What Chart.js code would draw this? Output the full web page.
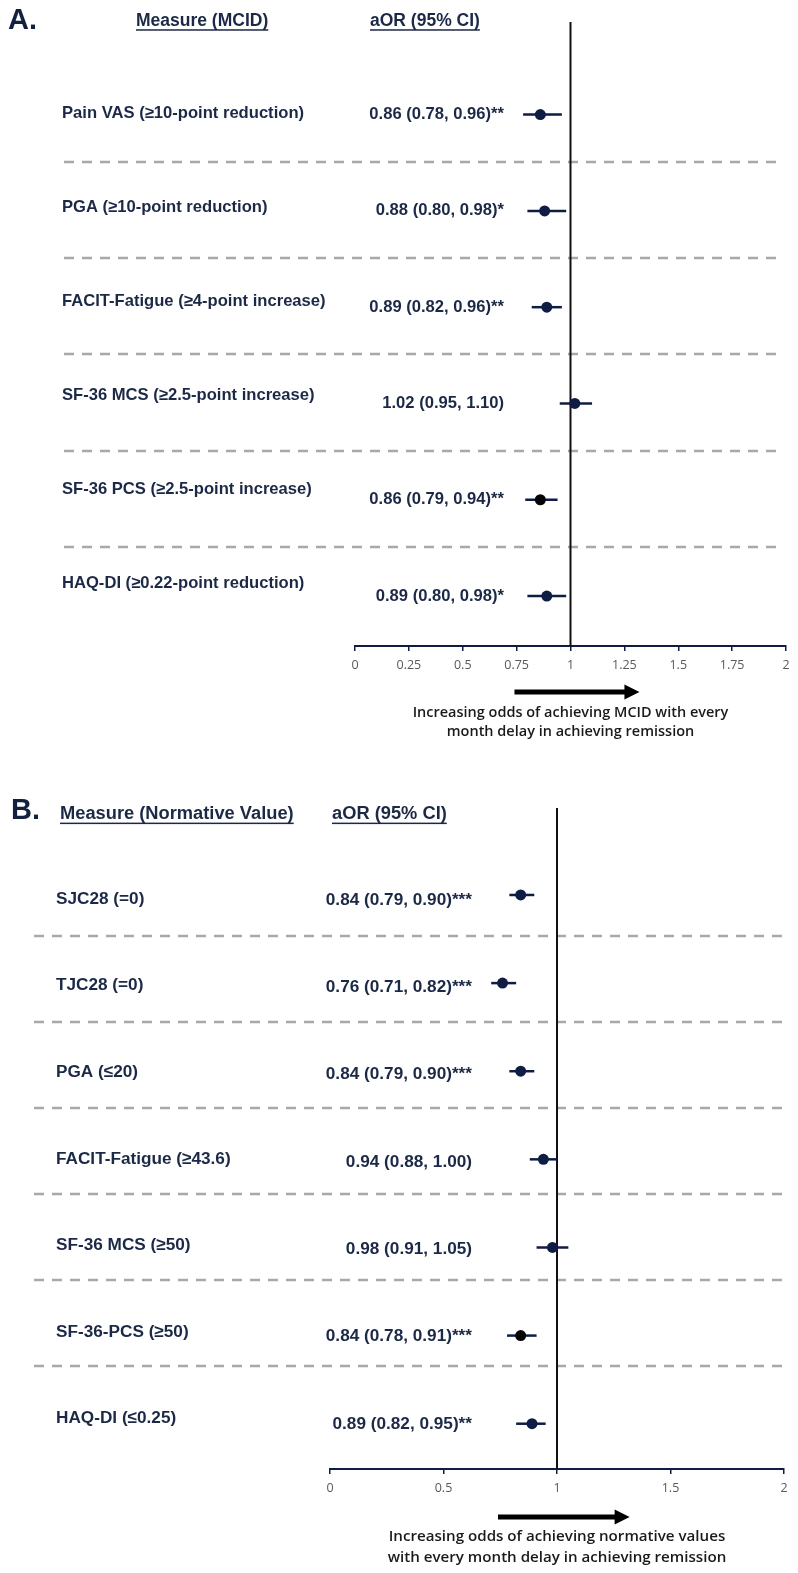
<!DOCTYPE html>
<html><head><meta charset="utf-8">
<script src="https://cdn.jsdelivr.net/npm/chart.js@4.4.1/dist/chart.umd.min.js"></script>
<style>
html,body{margin:0;padding:0;background:#fff;}
#wrap{position:relative;width:798px;height:1573px;overflow:hidden;background:#fff;}
canvas{position:absolute;left:0;}
#cA{top:0;} #cB{top:780px;}
</style></head><body>
<div id="wrap"><canvas id="cA" width="798" height="780"></canvas><canvas id="cB" width="798" height="793"></canvas></div>
<script>
// ---------- Panel A data ----------
const measuresA = ['Pain VAS (≥10-point reduction)','PGA (≥10-point reduction)','FACIT-Fatigue (≥4-point increase)','SF-36 MCS (≥2.5-point increase)','SF-36 PCS (≥2.5-point increase)','HAQ-DI (≥0.22-point reduction)'];
const aorA   = [0.86, 0.88, 0.89, 1.02, 0.86, 0.89];
const lowerA = [0.78, 0.80, 0.82, 0.95, 0.79, 0.80];
const upperA = [0.96, 0.98, 0.96, 1.10, 0.94, 0.98];
const signifA = ['**','*','**','','**','*'];
const tickValuesA = [0,0.25,0.5,0.75,1,1.25,1.5,1.75,2];
const tickLabelsA = ['0','0.25','0.5','0.75','1','1.25','1.5','1.75','2'];
const headersA = ['Measure (MCID)','aOR (95% CI)'];
const captionA = ['Increasing odds of achieving MCID with every','month delay in achieving remission'];

// ---------- Panel B data ----------
const measuresB = ['SJC28 (=0)','TJC28 (=0)','PGA (≤20)','FACIT-Fatigue (≥43.6)','SF-36 MCS (≥50)','SF-36-PCS (≥50)','HAQ-DI (≤0.25)'];
const aorB   = [0.84, 0.76, 0.84, 0.94, 0.98, 0.84, 0.89];
const lowerB = [0.79, 0.71, 0.79, 0.88, 0.91, 0.78, 0.82];
const upperB = [0.90, 0.82, 0.90, 1.00, 1.05, 0.91, 0.95];
const signifB = ['***','***','***','','','***','**'];
const tickValuesB = [0,0.5,1,1.5,2];
const tickLabelsB = ['0','0.5','1','1.5','2'];
const headersB = ['Measure (Normative Value)','aOR (95% CI)'];
const captionB = ['Increasing odds of achieving normative values','with every month delay in achieving remission'];

// ---------- styles ----------
const NAVY = '#0f1d45';
const TEXT = '#1c2946';
const pointFillA = [NAVY,NAVY,NAVY,NAVY,'#050505',NAVY];
const pointFillB = [NAVY,NAVY,NAVY,NAVY,NAVY,'#050505',NAVY];

function fmt(v){return v.toFixed(2);}

function drawText(ctx,s,x,y,size,weight,family,color,align,underline){
  ctx.font = weight+' '+size+'px '+family;
  ctx.fillStyle = color; ctx.textAlign = align; ctx.textBaseline = 'middle';
  ctx.fillText(s,x,y);
  if(underline){
    const w = ctx.measureText(s).width;
    const x0 = align==='left'?x:(align==='right'?x-w:x-w/2);
    ctx.fillRect(x0, y+size*0.47, w, 1.5);
  }
}

function makeDecor(L, d){
  return {
    id:'decor_'+L.id,
    beforeDatasetsDraw(chart){
      const ctx = chart.ctx, a = chart.chartArea, xs = chart.scales.x, ys = chart.scales.y;
      ctx.save();
      ctx.strokeStyle = '#a8a8a8'; ctx.lineWidth = 2.5; ctx.setLineDash([10,8]);
      for(let i=0;i<d.measures.length-1;i++){
        const yy = Math.round((ys.getPixelForValue(i)+ys.getPixelForValue(i+1))/2 - L.sepShift(i));
        ctx.beginPath(); ctx.moveTo(L.sepX0,yy); ctx.lineTo(L.sepX1,yy); ctx.stroke();
      }
      ctx.setLineDash([]);
      const rx = xs.getPixelForValue(1);
      ctx.strokeStyle = '#111'; ctx.lineWidth = 2;
      ctx.beginPath(); ctx.moveTo(rx,a.top); ctx.lineTo(rx,a.bottom); ctx.stroke();
      ctx.restore();
    },
    afterDraw(chart){
      const ctx = chart.ctx, xs = chart.scales.x, ys = chart.scales.y;
      ctx.save();
      drawText(ctx,L.letter,L.letterX,L.letterY,L.letterSize,'bold','"Liberation Sans", Arial, sans-serif','#13203f','left',false);
      drawText(ctx,d.headers[0],L.h1X,L.hY,L.hSize,'bold','"Liberation Sans", Arial, sans-serif',TEXT,'left',true);
      drawText(ctx,d.headers[1],L.h2X,L.hY,L.hSize,'bold','"Liberation Sans", Arial, sans-serif',TEXT,'left',true);
      d.measures.forEach((m,i)=>{
        const py = ys.getPixelForValue(i);
        drawText(ctx,m,L.labelX,py+L.labelDy(i),L.rowSize,'bold','"Liberation Sans", Arial, sans-serif',TEXT,'left',false);
        const val = fmt(d.aor[i])+' ('+fmt(d.lower[i])+', '+fmt(d.upper[i])+')'+d.signif[i];
        drawText(ctx,val,L.valueX,py+L.valueDy(i),L.rowSize,'bold','"Liberation Sans", Arial, sans-serif',TEXT,'right',false);
      });
      const ax0 = xs.getPixelForValue(L.arrowFrom), ax1 = xs.getPixelForValue(L.arrowTo), ay = L.arrowY;
      ctx.fillStyle = '#000';
      ctx.fillRect(ax0, ay-2.5, ax1-ax0-13, 5);
      ctx.beginPath(); ctx.moveTo(ax1-15, ay-7.5); ctx.lineTo(ax1, ay); ctx.lineTo(ax1-15, ay+7.5); ctx.closePath(); ctx.fill();
      const fam = '"Open Sans", "Noto Sans", sans-serif';
      ctx.font = '600 100px '+fam;
      const size = 100*L.capWidth/ctx.measureText(d.caption[0]).width;
      const cx = xs.getPixelForValue(1);
      drawText(ctx,d.caption[0],cx,L.capY1,size,'600',fam,'#1a1a1a','center',false);
      drawText(ctx,d.caption[1],cx,L.capY2,size,'600',fam,'#1a1a1a','center',false);
      ctx.restore();
    }
  };
}

function makeChart(canvasId, d, L){
  const datasets = [];
  d.measures.forEach((m,i)=>{
    datasets.push({label:'CI '+m, data:[{x:d.lower[i],y:i},{x:d.upper[i],y:i}], showLine:true,
      borderColor:NAVY, borderWidth:2.5, pointRadius:0, order:2});
  });
  datasets.push({label:'aOR', data:d.aor.map((v,i)=>({x:v,y:i})), pointRadius:5.5, pointHoverRadius:5.5,
    pointBackgroundColor:d.pointFill, pointBorderColor:d.pointFill, pointBorderWidth:0, showLine:false, order:0});
  return new Chart(document.getElementById(canvasId), {
    type:'scatter',
    data:{datasets},
    options:{
      responsive:false, animation:false, devicePixelRatio:1,
      layout:{padding:L.padding},
      plugins:{legend:{display:false}, tooltip:{enabled:false}},
      scales:{
        x:{type:'linear', position:'bottom', min:0, max:2,
          afterBuildTicks:(s)=>{ s.ticks = d.tickValues.map(v=>({value:v})); },
          afterFit:(s)=>{ s.height = 30; },
          ticks:{autoSkip:false, maxRotation:0, padding:7, color:'#595959',
            font:{family:'"Open Sans", sans-serif', size:12.5},
            callback:(v,idx)=>d.tickLabels[idx]},
          grid:{drawOnChartArea:false, drawTicks:true, tickLength:5, color:NAVY, lineWidth:1.5},
          border:{display:true, color:NAVY, width:2}
        },
        y:{type:'linear', display:false, reverse:true, min:L.yMin, max:L.yMax}
      }
    },
    plugins:[makeDecor(L,d)]
  });
}

makeChart('cA',
  {measures:measuresA, aor:aorA, lower:lowerA, upper:upperA, signif:signifA, tickValues:tickValuesA, tickLabels:tickLabelsA, headers:headersA, caption:captionA, pointFill:pointFillA},
  {id:'A', padding:{left:355, right:12, top:22, bottom:104}, yMin:-0.962, yMax:5.519,
   sepX0:64, sepX1:779, sepShift:(i)=>1,
   letter:'A.', letterX:8, letterY:21, letterSize:29,
   h1X:136, h2X:370, hY:21, hSize:17.5,
   labelX:62, labelDy:(i)=>-1-2.4*i, valueX:504, valueDy:(i)=>0, rowSize:16.6,
   arrowFrom:0.74, arrowTo:1.32, arrowY:692,
   capWidth:316, capY1:713, capY2:732});

makeChart('cB',
  {measures:measuresB, aor:aorB, lower:lowerB, upper:upperB, signif:signifB, tickValues:tickValuesB, tickLabels:tickLabelsB, headers:headersB, caption:captionB, pointFill:pointFillB},
  {id:'B', padding:{left:330, right:14, top:28, bottom:74}, yMin:-0.987, yMax:6.514,
   sepX0:34, sepX1:784, sepShift:(i)=>3+2.1*i,
   letter:'B.', letterX:11, letterY:31, letterSize:29,
   h1X:60, h2X:332, hY:34, hSize:18.3,
   labelX:56, labelDy:(i)=>4-1.5*i, valueX:472, valueDy:(i)=>5-0.8*i, rowSize:17.2,
   arrowFrom:0.74, arrowTo:1.32, arrowY:737,
   capWidth:337, capY1:757, capY2:778});
</script>
</body></html>
